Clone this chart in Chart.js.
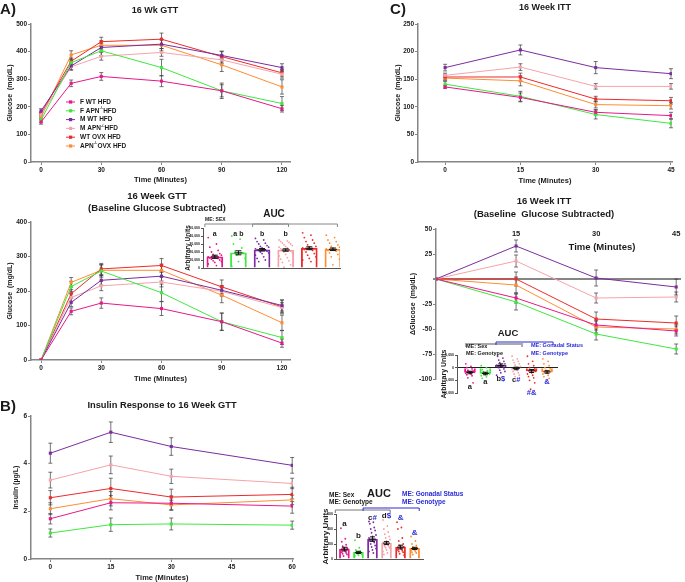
<!DOCTYPE html>
<html>
<head>
<meta charset="utf-8">
<script src="https://cdn.jsdelivr.net/npm/chart.js@4.4.1/dist/chart.umd.min.js"></script>
<style>
  html, body { margin: 0; padding: 0; background: #fff; }
  #page { position: relative; width: 685px; height: 582px; overflow: hidden;
          font-family: "Liberation Sans", Arial, sans-serif; font-weight: bold; color: #1a1a1a; }
  #page canvas { position: absolute; }
  .t { position: absolute; white-space: pre; line-height: 1; transform: translate(-50%, -50%); }
  .l { transform: translate(0, -50%); }
  .blue { color: #2b2bd9; }
</style>
</head>
<body>
<div id="page">
  <canvas id="gtt" width="300" height="190" style="left:0;top:0"></canvas>
  <canvas id="gttDelta" width="300" height="200" style="left:0;top:185px"></canvas>
  <canvas id="gttAuc" width="170" height="63" style="left:180px;top:210px"></canvas>
  <canvas id="ins" width="320" height="192" style="left:0;top:390px"></canvas>
  <canvas id="insAuc" width="122" height="82" style="left:318px;top:500px"></canvas>
  <canvas id="itt" width="335" height="190" style="left:350px;top:0"></canvas>
  <canvas id="ittDelta" width="335" height="215" style="left:350px;top:185px"></canvas>
  <canvas id="ittAuc" width="135" height="64" style="left:430px;top:336px"></canvas>

  <div class="t" style="left:8px;top:8px;font-size:15px">A)</div>
  <div class="t" style="left:155px;top:10px;font-size:9px">16 Wk GTT</div>
  <div class="t" style="left:157px;top:196px;font-size:9.5px">16 Week GTT</div>
  <div class="t" style="left:157px;top:208px;font-size:9.5px">(Baseline Glucose Subtracted)</div>
  <div class="t" style="left:274px;top:214px;font-size:10px">AUC</div>
  <div class="t l" style="left:205px;top:219px;font-size:5px">ME: SEX</div>

  <div class="t" style="left:8px;top:405px;font-size:15px">B)</div>
  <div class="t" style="left:162px;top:406px;font-size:9.3px">Insulin Response to 16 Week GTT</div>
  <div class="t" style="left:379px;top:493px;font-size:11px">AUC</div>
  <div class="t l" style="left:329px;top:495px;font-size:6.5px">ME: Sex</div>
  <div class="t l" style="left:329px;top:502px;font-size:6.5px">ME: Genotype</div>
  <div class="t l blue" style="left:402px;top:494px;font-size:6.5px">ME: Gonadal Status</div>
  <div class="t l blue" style="left:402px;top:502px;font-size:6.5px">ME: Genotype</div>

  <div class="t" style="left:398px;top:8px;font-size:15px">C)</div>
  <div class="t" style="left:545px;top:7px;font-size:9px">16 Week ITT</div>
  <div class="t" style="left:544px;top:201px;font-size:9.5px">16 Week ITT</div>
  <div class="t" style="left:544px;top:214px;font-size:9.5px">(Baseline  Glucose Subtracted)</div>
  <div class="t" style="left:602px;top:247px;font-size:9.5px">Time (Minutes)</div>
  <div class="t" style="left:508px;top:333px;font-size:9.5px">AUC</div>
  <div class="t l" style="left:466px;top:347px;font-size:5.5px">ME: Sex</div>
  <div class="t l" style="left:466px;top:354px;font-size:5.5px">ME: Genotype</div>
  <div class="t l blue" style="left:531px;top:346px;font-size:5.5px">ME: Gonadal Status</div>
  <div class="t l blue" style="left:531px;top:354px;font-size:5.5px">ME: Genotype</div>
</div>

<script>
"use strict";

const FONT = '"Liberation Sans", Arial, sans-serif';

const groups = ["F WT HFD", "F APN⁻/⁻HFD", "M WT HFD", "M APN⁻/⁻HFD", "WT OVX HFD", "APN⁻/⁻OVX HFD"];
const colors = ["#e8178a", "#3ee83e", "#7b2d9f", "#f5a3aa", "#ee2a2a", "#ff8c33"];
const blue = "#2b2bd9";

// 16 week GTT
const gttTime = [0, 15, 30, 60, 90, 120];
const gttTicks = [0, 30, 60, 90, 120];
const gttMean = [
  [145, 285, 310, 293, 258, 193],
  [152, 360, 403, 342, 258, 212],
  [185, 348, 415, 427, 386, 342],
  [171, 345, 383, 397, 370, 318],
  [176, 365, 436, 445, 382, 323],
  [162, 388, 423, 423, 352, 272]
];
const gttSem = [
  [8, 12, 14, 20, 28, 12],
  [8, 12, 18, 30, 22, 25],
  [8, 14, 14, 16, 14, 14],
  [8, 12, 14, 14, 14, 14],
  [6, 12, 16, 22, 20, 12],
  [6, 15, 16, 20, 24, 26]
];

// GTT with baseline subtracted
const gttDeltaMean = [
  [0, 141, 165, 149, 111, 49],
  [0, 213, 258, 195, 111, 65],
  [0, 167, 231, 243, 202, 158],
  [0, 181, 215, 226, 199, 152],
  [0, 192, 264, 274, 212, 154],
  [0, 225, 260, 260, 188, 108]
];
const gttDeltaSem = [
  [0, 10, 15, 20, 25, 12],
  [0, 15, 18, 25, 25, 20],
  [0, 12, 14, 14, 14, 16],
  [0, 12, 14, 14, 14, 14],
  [0, 12, 16, 20, 20, 20],
  [0, 14, 16, 18, 22, 22]
];
const gttAucMean = [14000, 19000, 22800, 22500, 24700, 23400];
const gttAucSem = [2000, 2500, 1500, 1500, 1800, 1600];
const gttAucDots = [
  [38000, 30000, 26000, 22000, 20000, 18000, 17000, 16000, 15000, 14000, 13000, 12500, 12000, 11000, 10000, 9000, 8000, 7000, 5000, 3000],
  [40000, 36000, 30000, 25000, 21000, 19000, 16000, 12000, 8000, 2000],
  [37000, 35000, 33000, 31000, 30000, 28000, 27000, 26000, 25000, 24000, 23500, 23000, 22500, 22000, 21000, 20000, 19000, 18000, 16000, 14000, 12000, 10000, 8000],
  [35000, 34000, 33000, 32000, 31000, 30000, 29000, 28000, 27000, 26000, 25000, 24000, 23000, 22000, 21000, 20000, 19000, 17000, 15000, 13000, 11000, 9000, 7000, 4000, 1000],
  [44000, 41000, 38000, 35000, 33000, 31000, 29000, 27000, 26000, 25000, 24000, 23000, 22000, 20000, 18000, 16000, 14000, 12000, 10000, 8000],
  [41000, 38000, 35000, 33000, 31000, 29000, 27000, 26000, 25000, 24000, 23000, 22000, 21000, 19000, 17000, 14000, 11000, 4000]
];
const gttAucLetters = ["a", "a b", "b", "b", "", ""];

// insulin during GTT
const insTime = [0, 15, 30, 60];
const insTicks = [0, 15, 30, 45, 60];
const insMean = [
  [1.69, 2.36, 2.34, 2.22],
  [1.09, 1.44, 1.47, 1.42],
  [4.44, 5.32, 4.72, 3.93],
  [3.31, 3.95, 3.47, 3.17],
  [2.57, 2.96, 2.60, 2.71],
  [2.11, 2.53, 2.27, 2.48]
];
const insSem = [
  [0.22, 0.30, 0.30, 0.30],
  [0.17, 0.28, 0.25, 0.17],
  [0.42, 0.43, 0.37, 0.33],
  [0.33, 0.37, 0.30, 0.22],
  [0.30, 0.43, 0.33, 0.30],
  [0.25, 0.30, 0.20, 0.20]
];
const insAucMean = [132, 88, 265, 212, 159, 141];
const insAucSem = [25, 15, 30, 20, 25, 15];
const insAucDots = [
  [410, 270, 230, 190, 170, 150, 140, 130, 120, 110, 100, 90, 80, 70, 60, 40],
  [250, 150, 120, 100, 90, 80, 70, 60, 50, 40],
  [500, 490, 470, 420, 400, 380, 350, 320, 300, 280, 260, 240, 220, 200, 180, 160, 140, 120, 100, 80],
  [520, 440, 400, 360, 330, 300, 280, 260, 240, 220, 200, 190, 180, 170, 160, 150, 140, 120, 100, 80, 60],
  [490, 420, 400, 280, 240, 200, 180, 160, 150, 140, 130, 120, 110, 100, 90, 70, 50],
  [300, 240, 200, 180, 160, 150, 140, 130, 120, 110, 100, 90, 80, 60]
];
const insLetters = ["a", "b", "c", "d", "", ""];
const insLettersBlue = ["", "", "#", "$", "&", "&"];

// 16 week ITT
const ittTime = [0, 15, 30, 45];
const ittTicks = [0, 15, 30, 45];
const ittMean = [
  [136, 117, 90, 84],
  [141, 119, 86, 70],
  [171, 203, 171, 160],
  [157, 172, 137, 137],
  [154, 154, 114, 111],
  [152, 147, 104, 102]
];
const ittSem = [
  [3, 8, 5, 6],
  [5, 9, 8, 8],
  [6, 9, 11, 9],
  [4, 6, 5, 5],
  [5, 7, 5, 6],
  [4, 9, 6, 6]
];
const ittDeltaMean = [
  [0, -19, -46, -52],
  [0, -23, -55, -70],
  [0, 33, 1, -8],
  [0, 18, -19, -18],
  [0, 0, -40, -44],
  [0, -6, -48, -50]
];
const ittDeltaSem = [
  [0, 5, 5, 5],
  [0, 8, 6, 5],
  [0, 6, 8, 8],
  [0, 6, 5, 5],
  [0, 7, 7, 7],
  [0, 8, 6, 5]
];
const ittDeltaTicks = [15, 30, 45];
const ittAucMean = [-1900, -2300, 900, -300, -1300, -1700];
const ittAucSem = [500, 500, 600, 500, 600, 500];
const ittAucDots = [
  [1500, 500, 0, -500, -1000, -1300, -1600, -1800, -2000, -2200, -2500, -2800, -3200, -4000, -6000],
  [800, 0, -800, -1200, -1600, -2000, -2200, -2500, -2800, -3200, -3600, -4200],
  [7000, 5500, 4500, 3800, 3000, 2500, 2000, 1500, 1200, 1000, 800, 500, 200, 0, -500, -1000, -1500, -2000, -3000],
  [4500, 3500, 3000, 2500, 2000, 1500, 1000, 500, 0, -500, -1000, -1500, -2000, -2500, -3000, -3500],
  [4500, 2500, 1500, 800, 0, -500, -1000, -1500, -2000, -2500, -3000, -3500, -4000, -5000, -6000, -8500],
  [3500, 2500, 1500, 800, 0, -500, -1000, -1500, -2000, -2500, -3000, -3500, -4200]
];
const ittLetters = ["a", "a", "b", "c", "", ""];
const ittLettersBlue = ["", "", "$", "#", "#&", "&"];

Chart.defaults.font.family = FONT;
Chart.defaults.font.weight = "bold";
Chart.defaults.color = "#1a1a1a";
Chart.defaults.animation = false;
Chart.defaults.plugins.legend.display = false;
Chart.defaults.plugins.tooltip.enabled = false;

const AXIS = "#858585";

function drawErrors(chart, o) {
  const ctx = chart.ctx;
  chart.data.datasets.forEach((ds, i) => {
    if (!ds.errors) return;
    const meta = chart.getDatasetMeta(i);
    const ys = chart.scales[meta.yAxisID];
    ctx.save();
    ctx.strokeStyle = o.color;
    ctx.lineWidth = o.width;
    meta.data.forEach((el, j) => {
      const e = ds.errors[j];
      if (!e) return;
      const v = ds.data[j].y;
      const top = ys.getPixelForValue(v + e);
      const bot = ys.getPixelForValue(v - e);
      ctx.beginPath();
      ctx.moveTo(el.x, top); ctx.lineTo(el.x, bot);
      ctx.moveTo(el.x - o.cap, top); ctx.lineTo(el.x + o.cap, top);
      ctx.moveTo(el.x - o.cap, bot); ctx.lineTo(el.x + o.cap, bot);
      if (o.mean) {
        const m = ys.getPixelForValue(v);
        ctx.moveTo(el.x - o.mean, m); ctx.lineTo(el.x + o.mean, m);
      }
      ctx.stroke();
    });
    ctx.restore();
  });
}

function errorBars(o) {
  return {
    id: "errorBars",
    beforeDatasetsDraw(chart) { if (o.under) drawErrors(chart, o); },
    afterDatasetsDraw(chart) { if (!o.under) drawErrors(chart, o); }
  };
}

function drawRich(ctx, text, x, y, size) {
  const parts = text.split("⁻/⁻");
  let cx = x;
  parts.forEach((p, k) => {
    ctx.font = `bold ${size}px ${FONT}`;
    ctx.fillText(p, cx, y);
    cx += ctx.measureText(p).width;
    if (k < parts.length - 1) {
      ctx.font = `bold ${size * 0.6}px ${FONT}`;
      ctx.fillText("-/-", cx, y - size * 0.4);
      cx += ctx.measureText("-/-").width;
    }
  });
}

function insetLegend(x, y, rowH, size) {
  return {
    id: "insetLegend",
    afterDraw(chart) {
      const ctx = chart.ctx;
      ctx.save();
      ctx.textBaseline = "middle";
      chart.data.datasets.forEach((ds, i) => {
        const yy = y + i * rowH;
        ctx.strokeStyle = ds.borderColor;
        ctx.lineWidth = 1;
        ctx.beginPath(); ctx.moveTo(x, yy); ctx.lineTo(x + 9, yy); ctx.stroke();
        ctx.fillStyle = ds.borderColor;
        ctx.fillRect(x + 3, yy - 1.6, 3.2, 3.2);
        ctx.fillStyle = "#1a1a1a";
        drawRich(ctx, ds.label, x + 14, yy, size);
      });
      ctx.restore();
    }
  };
}

// brackets above an AUC panel and the significance letters by each bar
function aucMarks(o) {
  return {
    id: "aucMarks",
    afterDraw(chart) {
      const { ctx, chartArea } = chart;
      const xs = chart.scales.x, ys = chart.scales.y;
      ctx.save();
      o.brackets.forEach(b => {
        const x1 = xs.getPixelForValue(b.from), x2 = xs.getPixelForValue(b.to);
        const yy = chartArea.top - b.up;
        ctx.strokeStyle = b.color;
        ctx.lineWidth = b.width || 1;
        ctx.beginPath();
        ctx.moveTo(x1, yy + 3); ctx.lineTo(x1, yy); ctx.lineTo(x2, yy); ctx.lineTo(x2, yy + 3);
        ctx.stroke();
      });
      ctx.textBaseline = "middle";
      ctx.font = `bold ${o.size}px ${FONT}`;
      o.black.forEach((t, i) => {
        const tb = o.blue ? o.blue[i] : "";
        if (!t && !tb) return;
        let v;
        if (o.mode === "fixed") v = o.at;
        else if (o.mode === "above") v = Math.max(...o.dots[i]) + o.gap;
        else v = Math.min(...o.dots[i]) - o.gap;
        const wB = ctx.measureText(t).width, wL = ctx.measureText(tb).width;
        let x = xs.getPixelForValue(i) - (wB + wL) / 2;
        const y = ys.getPixelForValue(v);
        ctx.textAlign = "left";
        ctx.fillStyle = "#1a1a1a";
        ctx.fillText(t, x, y);
        ctx.fillStyle = blue;
        ctx.fillText(tb, x + wB, y);
      });
      ctx.restore();
    }
  };
}

function lineSets(times, means, sems) {
  return groups.map((g, i) => ({
    label: g,
    data: times.map((t, j) => ({ x: t, y: means[i][j] })),
    errors: sems[i],
    borderColor: colors[i],
    backgroundColor: colors[i],
    borderWidth: 1,
    pointStyle: "rect",
    pointRadius: 2.2,
    pointBorderWidth: 0,
    tension: 0
  }));
}

function fixTicks(list) {
  return s => { s.ticks = list.map(v => ({ value: v })); };
}

function mainAxes(c) {
  return {
    x: {
      type: "linear", min: c.xMin, max: c.xMax,
      afterBuildTicks: fixTicks(c.xTicks),
      afterFit: s => { s.height = c.xHeight; },
      border: { color: AXIS, width: 1.5 },
      grid: { drawOnChartArea: false, tickLength: 3, color: AXIS },
      ticks: { font: { size: 6.5 }, padding: 1, autoSkip: false, maxRotation: 0 },
      title: { display: true, text: c.xTitle, font: { size: c.xTitleSize || 7.5 }, padding: { top: 0, bottom: c.xTitlePad } }
    },
    y: {
      min: c.yMin, max: c.yMax,
      afterBuildTicks: fixTicks(c.yTicks),
      afterFit: s => { s.width = c.yWidth; },
      border: { color: AXIS, width: 1.5 },
      grid: { drawOnChartArea: false, tickLength: 3, color: AXIS },
      ticks: { font: { size: 6.5 }, padding: 1 },
      title: { display: true, text: c.yTitle, font: { size: 7 }, padding: { top: c.yTitlePad, bottom: 0 } }
    }
  };
}

function swarm(dots, g, spread) {
  return dots.map((v, k) => ({ x: g + ((((k * 5) % 9) - 4) / 4) * spread, y: v }));
}

function aucSets(means, sems, dots, barW, spread) {
  const sets = [{
    type: "bar",
    data: means.map((m, i) => ({ x: i, y: m })),
    errors: sems,
    backgroundColor: "rgba(255,255,255,0)",
    borderColor: colors,
    borderWidth: 1.2,
    barThickness: barW,
    order: 2
  }];
  dots.forEach((d, g) => sets.push({
    type: "scatter",
    data: swarm(d, g, spread),
    backgroundColor: colors[g],
    borderColor: colors[g],
    pointRadius: 0.9,
    pointBorderWidth: 0,
    order: 1
  }));
  return sets;
}

function aucAxes(c) {
  return {
    x: {
      type: "linear", min: c.xMin, max: c.xMax, offset: false, display: c.xLine,
      afterFit: s => { s.height = 1; },
      border: { color: "#555", width: 1 },
      grid: { display: false, offset: false },
      ticks: { display: false }
    },
    y: {
      min: c.yMin, max: c.yMax,
      afterBuildTicks: fixTicks(c.yTicks),
      afterFit: s => { s.width = c.yWidth; },
      border: { color: "#555", width: 1 },
      grid: {
        drawOnChartArea: !!c.zeroLine, tickLength: 2, tickColor: "#555",
        color: ctx => (c.zeroLine && ctx.tick && ctx.tick.value === 0 ? "#222" : "rgba(0,0,0,0)")
      },
      ticks: { font: { size: 3.5 }, padding: 1 },
      title: { display: true, text: "Arbitrary Units", font: { size: c.titleSize }, padding: { top: c.titlePad, bottom: 0 } }
    }
  };
}

// A) 16 week GTT
new Chart(document.getElementById("gtt"), {
  type: "line",
  data: { datasets: lineSets(gttTime, gttMean, gttSem) },
  options: {
    responsive: false,
    layout: { padding: { top: 24, left: 0, right: 10, bottom: 4 } },
    scales: mainAxes({ xMin: -5, xMax: 124, xTicks: gttTicks, yMin: 0, yMax: 500, yTicks: [0, 100, 200, 300, 400, 500],
      xHeight: 24, yWidth: 31, xTitle: "Time (Minutes)", xTitlePad: 2, yTitle: "Glucose  (mg/dL)", yTitlePad: 6 })
  },
  plugins: [errorBars({ under: true, color: "#3a3a3a", width: 0.7, cap: 2 }), insetLegend(66, 102, 8.8, 6.5)]
});

new Chart(document.getElementById("gttDelta"), {
  type: "line",
  data: { datasets: lineSets(gttTime, gttDeltaMean, gttDeltaSem) },
  options: {
    responsive: false,
    layout: { padding: { top: 37, left: 0, right: 10, bottom: 0 } },
    scales: mainAxes({ xMin: -5, xMax: 124, xTicks: gttTicks, yMin: 0, yMax: 400, yTicks: [0, 100, 200, 300, 400],
      xHeight: 25, yWidth: 31, xTitle: "Time (Minutes)", xTitlePad: 2, yTitle: "Glucose  (mg/dL)", yTitlePad: 6 })
  },
  plugins: [errorBars({ under: true, color: "#3a3a3a", width: 0.7, cap: 2 })]
});

new Chart(document.getElementById("gttAuc"), {
  type: "bar",
  data: { datasets: aucSets(gttAucMean, gttAucSem, gttAucDots, 16, 0.28) },
  options: {
    responsive: false,
    layout: { padding: { top: 18, left: 4, right: 10, bottom: 4 } },
    scales: aucAxes({ xMin: -0.5, xMax: 5.3, xLine: true, yMin: 0, yMax: 50000,
      yTicks: [0, 10000, 20000, 30000, 40000, 50000], yWidth: 19, titleSize: 6.5, titlePad: 0 })
  },
  plugins: [
    errorBars({ color: "#111", width: 1, cap: 3, mean: 4 }),
    aucMarks({ mode: "fixed", at: 42000, size: 7, black: gttAucLetters, dots: gttAucDots,
      brackets: [
        { from: -0.42, to: 3.12, up: 4, color: "#888" },
        { from: 1.6, to: 5.19, up: 4, color: "#888" }
      ] })
  ]
});

// B) insulin
new Chart(document.getElementById("ins"), {
  type: "line",
  data: { datasets: lineSets(insTime, insMean, insSem) },
  options: {
    responsive: false,
    layout: { padding: { top: 26, left: 0, right: 27, bottom: 0 } },
    scales: mainAxes({ xMin: -4.8, xMax: 60.2, xTicks: insTicks, yMin: 0, yMax: 6, yTicks: [0, 2, 4, 6],
      xHeight: 23, yWidth: 31, xTitle: "Time (Minutes)", xTitlePad: 0, yTitle: "Insulin (µg/L)", yTitlePad: 12 })
  },
  plugins: [errorBars({ under: true, color: "#3a3a3a", width: 0.7, cap: 2 })]
});

new Chart(document.getElementById("insAuc"), {
  type: "bar",
  data: { datasets: aucSets(insAucMean, insAucSem, insAucDots, 10, 0.25) },
  options: {
    responsive: false,
    layout: { padding: { top: 14, left: 2, right: 17, bottom: 22 } },
    scales: aucAxes({ xMin: -0.6, xMax: 5.6, xLine: true, yMin: 0, yMax: 600,
      yTicks: [0, 200, 400, 600], yWidth: 16, titleSize: 8, titlePad: 1 })
  },
  plugins: [
    errorBars({ color: "#111", width: 1, cap: 2.5, mean: 3.5 }),
    aucMarks({ mode: "above", gap: 55, size: 8, black: insLetters, blue: insLettersBlue, dots: insAucDots,
      brackets: [
        { from: -0.65, to: 3.26, up: 4, color: "#777" },
        { from: 1.33, to: 5.33, up: 6, color: blue }
      ] })
  ]
});

// C) 16 week ITT
new Chart(document.getElementById("itt"), {
  type: "line",
  data: { datasets: lineSets(ittTime, ittMean, ittSem) },
  options: {
    responsive: false,
    layout: { padding: { top: 24, left: 40, right: 13, bottom: 4 } },
    scales: mainAxes({ xMin: -5.4, xMax: 45.2, xTicks: ittTicks, yMin: 0, yMax: 250, yTicks: [0, 50, 100, 150, 200, 250],
      xHeight: 24, yWidth: 28, xTitle: "Time (Minutes)", xTitlePad: 1, yTitle: "Glucose  (mg/dL)", yTitlePad: 4 })
  },
  plugins: [errorBars({ under: true, color: "#3a3a3a", width: 0.7, cap: 2 })]
});

const deltaAxes = mainAxes({ xMin: 0, xMax: 45.9, xTicks: ittDeltaTicks, yMin: -100, yMax: 50,
  yTicks: [-100, -75, -50, -25, 0, 25, 50], xHeight: 0, yWidth: 30, xTitle: "", xTitlePad: 0,
  yTitle: "ΔGlucose  (mg/dL)", yTitlePad: 3 });
deltaAxes.x.position = "top";
deltaAxes.x.border = { display: false };
deltaAxes.x.grid = { display: false, drawTicks: false };
deltaAxes.x.title = { display: false };
deltaAxes.x.ticks = { font: { size: 7.5 }, mirror: true, padding: 0, autoSkip: false, maxRotation: 0 };
deltaAxes.y.ticks.callback = v => (v === 0 ? "" : v);
deltaAxes.y.grid = {
  drawOnChartArea: true, tickLength: 3, tickColor: AXIS,
  color: ctx => (ctx.tick && ctx.tick.value === 0 ? AXIS : "rgba(0,0,0,0)"),
  lineWidth: ctx => (ctx.tick && ctx.tick.value === 0 ? 2 : 1)
};

new Chart(document.getElementById("ittDelta"), {
  type: "line",
  data: { datasets: lineSets(ittTime, ittDeltaMean, ittDeltaSem) },
  options: {
    responsive: false,
    layout: { padding: { top: 44, left: 56, right: 0, bottom: 21 } },
    scales: deltaAxes
  },
  plugins: [errorBars({ under: true, color: "#3a3a3a", width: 0.7, cap: 2 })]
});

new Chart(document.getElementById("ittAuc"), {
  type: "bar",
  data: { datasets: aucSets(ittAucMean, ittAucSem, ittAucDots, 11, 0.27) },
  options: {
    responsive: false,
    layout: { padding: { top: 19, left: 8, right: 7, bottom: 6 } },
    scales: aucAxes({ xMin: -0.84, xMax: 5.71, xLine: false, zeroLine: true, yMin: -10000, yMax: 5000,
      yTicks: [-10000, -5000, 0, 5000], yWidth: 19, titleSize: 7, titlePad: 2 })
  },
  plugins: [
    errorBars({ color: "#111", width: 1, cap: 2.5, mean: 3.5 }),
    aucMarks({ mode: "below", gap: 1500, size: 7.5, black: ittLetters, blue: ittLettersBlue, dots: ittAucDots,
      brackets: [
        { from: -0.26, to: 3.38, up: 11, color: "#aaa", width: 2 },
        { from: 1.69, to: 5.39, up: 13, color: blue }
      ] })
  ]
});
</script>
</body>
</html>
